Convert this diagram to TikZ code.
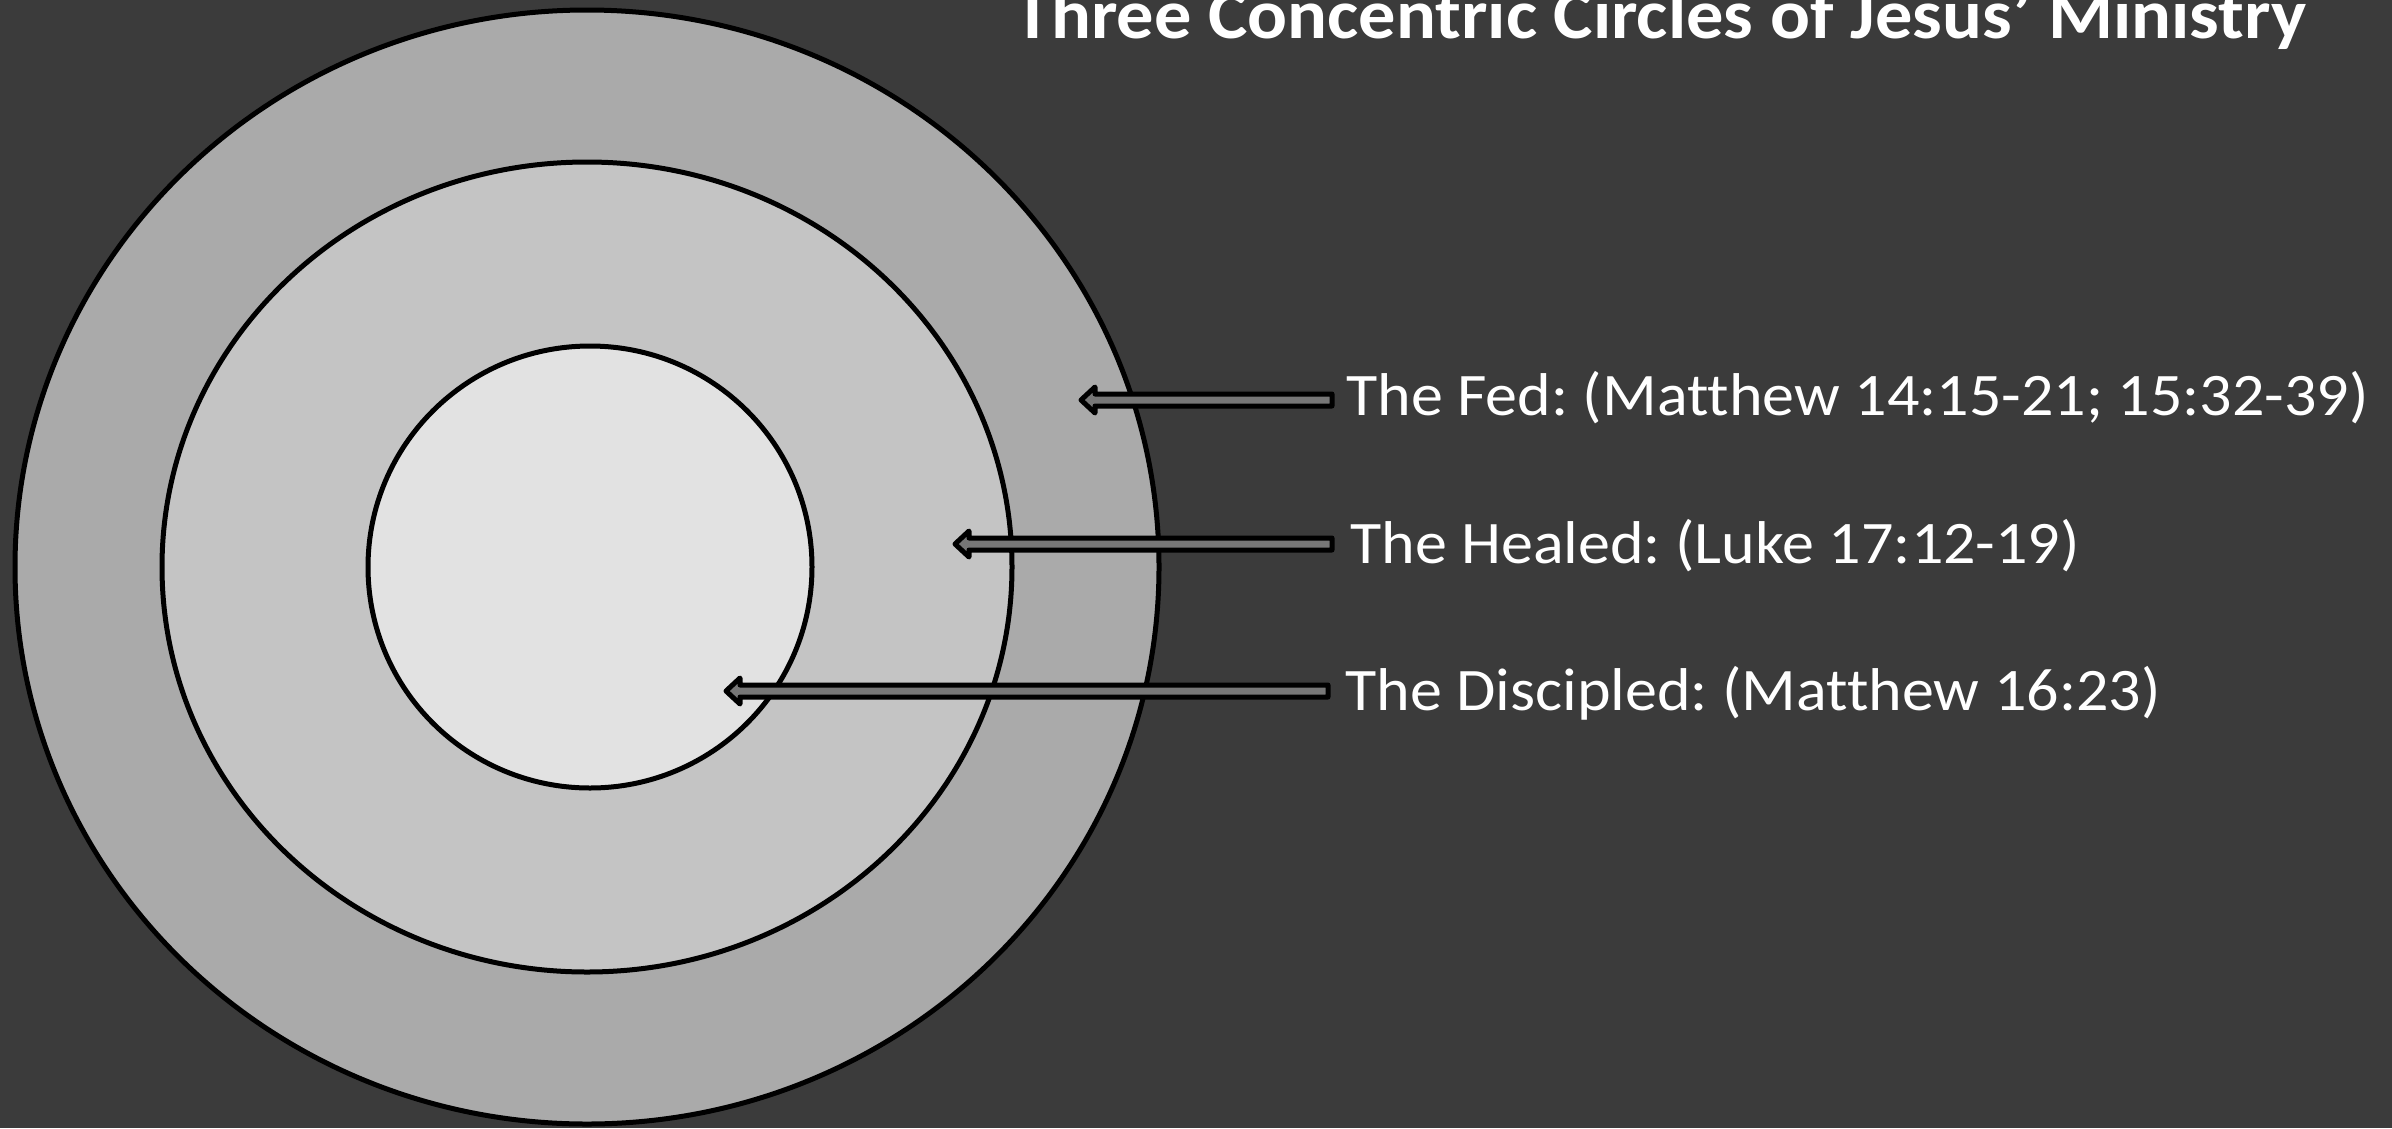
\documentclass[tikz,border=0pt]{standalone}
\usepackage{fontspec}
\setmainfont{Carlito}[Ligatures={NoCommon}, FakeStretch=1.06]
\usetikzlibrary{calc}
\frenchspacing
\definecolor{bgc}{HTML}{3B3B3B}
\definecolor{outerc}{HTML}{AAAAAA}
\definecolor{midc}{HTML}{C4C4C4}
\definecolor{innerc}{HTML}{E2E2E2}
\definecolor{arrc}{HTML}{777777}
\tikzset{
  ring/.style={draw=black, line width=5pt},
  barrow/.style={draw=black, fill=arrc, line width=5pt, line join=round},
  lbl/.style={text=white, font=\fontsize{60.4}{72}\selectfont, inner sep=0pt, anchor=base west},
  ttl/.style={text=white, font=\bfseries\fontsize{70.2}{84}\selectfont, inner sep=0pt, anchor=base west}
}
\newcommand{\blockarrow}[2]{%
  \draw[barrow] (#1) -- ++(14,-13) -- ++(0,7) -- ($(#2)+(0,-6)$) -- ++(0,12) -- ($(#1)+(14,6)$) -- ++(0,7) -- cycle;}
\begin{document}
\begin{tikzpicture}[x=1pt,y=-1pt]
\useasboundingbox (0,0) rectangle (2392,1128);
\fill[bgc] (0,0) rectangle (2392,1128);
\coordinate (c) at (587,567);
\draw[ring, fill=outerc] (c) ellipse [x radius=572, y radius=557];
\draw[ring, fill=midc] (c) ellipse [x radius=425, y radius=405];
\draw[ring, fill=innerc] (590,567) ellipse [x radius=222, y radius=221];
\node[ttl] (title) at (1014,38) {Three Concentric Circles of Jesus’ Ministry};
\node[lbl] (fed) at (1346,415) {The Fed: (Matthew 14:15-21; 15:32-39)};
\node[lbl] (healed) at (1350,563) {The Healed: (Luke 17:12-19)};
\node[lbl] (disc) at (1345,710) {The Discipled: (Matthew 16:23)};
\coordinate (fedtip) at (1081,400);
\coordinate (fedtail) at (1332,400);
\coordinate (healtip) at (955,544);
\coordinate (healtail) at (1332,544);
\coordinate (disctip) at (726,691);
\coordinate (disctail) at (1328,691);
\blockarrow{fedtip}{fedtail}
\blockarrow{healtip}{healtail}
\blockarrow{disctip}{disctail}
\end{tikzpicture}
\end{document}
